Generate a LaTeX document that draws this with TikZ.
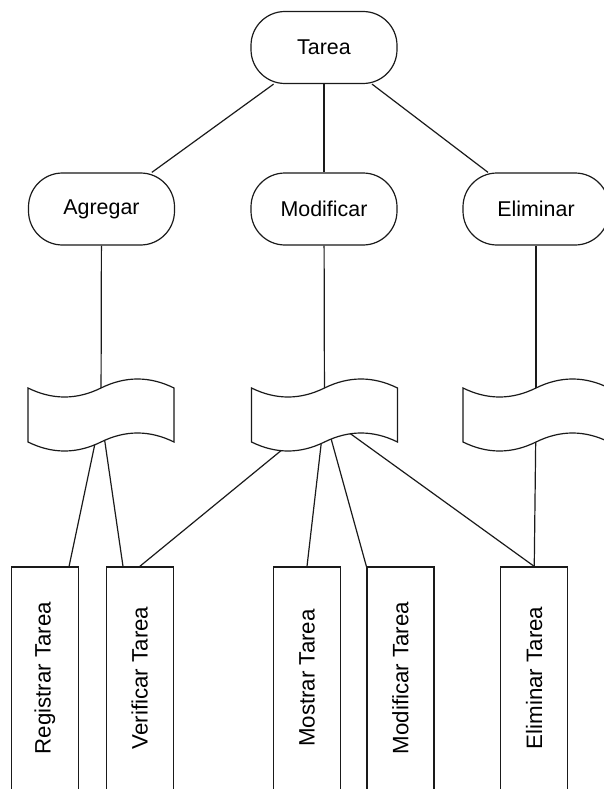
\documentclass[tikz,border=0pt]{standalone}
\usepackage{fontspec}
\setmainfont{Liberation Sans}
\usetikzlibrary{calc}
\pgfdeclarelayer{bg}
\pgfdeclarelayer{edges}
\pgfsetlayers{bg,edges,main}
\definecolor{ink}{HTML}{1A1A1A}
\newcommand\wavepath[1]{%
  \draw[ink, line width=1.2pt, fill=white, shift={(#1,379)}]
    (0,9) .. controls (24.33,21) and (48.67,21) .. (73,9)
    .. controls (97.33,-3) and (121.67,-3) .. (146,9)
    -- (146,63) .. controls (121.67,51) and (97.33,51) .. (73,63)
    .. controls (48.67,75) and (24.33,75) .. (0,63) -- cycle;}
\begin{document}
\begin{tikzpicture}[x=1pt,y=-1pt,
  oval/.style={draw=ink, line width=1.2pt, fill=white, rounded corners=34pt,
    minimum width=146pt, minimum height=72pt, inner sep=0pt,
    font=\fontsize{21.4}{24}\selectfont},
  wavebox/.style={minimum width=146pt, minimum height=72pt, inner sep=0pt},
  taskbox/.style={draw=ink, line width=1.2pt, fill=white, minimum width=67pt,
    minimum height=230pt, inner sep=0pt, font=\fontsize{22.3}{26}\selectfont},
  link/.style={draw=ink, line width=1.2pt}]
\useasboundingbox (0,0) rectangle (604,789);
\begin{pgfonlayer}{bg}
\fill[white] (0,0) rectangle (604,789);
\end{pgfonlayer}
\clip (0,0) rectangle (604,789);

% top level
\node[oval] (tarea) at (324,47.5) {Tarea};
\node[oval] (agregar) at (101.5,209) {Agregar};
\node[oval] (modificar) at (324,209) {Modificar};
\node[oval] (eliminar) at (536,209) {Eliminar};

% tape shapes
\node[wavebox] (wA) at (101,415) {};
\node[wavebox] (wM) at (324.5,415) {};
\node[wavebox] (wE) at (536,415) {};
\wavepath{28}
\wavepath{251.5}
\wavepath{463}

% task boxes
\node[taskbox] (rt) at (44.75,682) {\rotatebox{90}{\hspace*{8pt}Registrar Tarea}};
\node[taskbox] (vt) at (139.75,682) {\rotatebox{90}{\hspace*{8pt}Verificar Tarea}};
\node[taskbox] (mt) at (307,682) {\rotatebox{90}{\hspace*{8pt}Mostrar Tarea}};
\node[taskbox] (mft) at (400.5,682) {\rotatebox{90}{\hspace*{8pt}Modificar Tarea}};
\node[taskbox] (et) at (534.25,682) {\rotatebox{90}{\hspace*{8pt}Eliminar Tarea}};

\begin{pgfonlayer}{edges}
\draw[link] (tarea) -- (agregar);
\draw[link] (tarea) -- (modificar);
\draw[link] (tarea) -- (eliminar);
\draw[link] (agregar) -- (wA.center);
\draw[link] (modificar) -- (wM.center);
\draw[link] (eliminar) -- (wE.center);
\draw[link] (wA.center) -- (rt);
\draw[link] (wA.center) -- (vt);
\draw[link] (wM.center) -- (vt.north);
\draw[link] (wM.center) -- (mt.north);
\draw[link] (wM.center) -- (mft.north west);
\draw[link] (wM.center) -- (et.north);
\draw[link] (wE.center) -- (et.north);
\end{pgfonlayer}
\end{tikzpicture}
\end{document}
